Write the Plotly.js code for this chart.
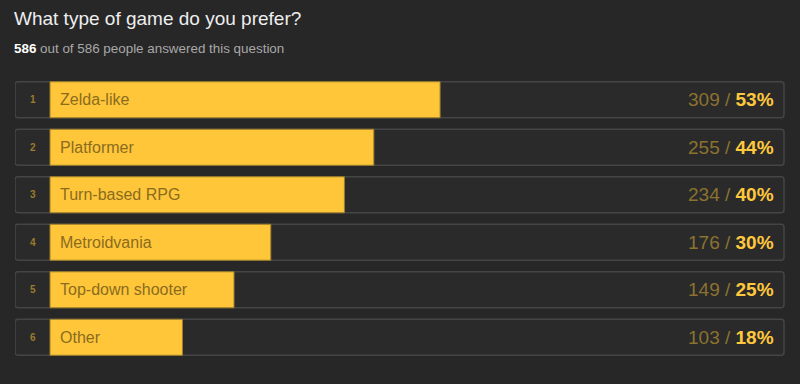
<!DOCTYPE html>
<html>
<head>
<meta charset="utf-8">
<script src="https://cdn.plot.ly/plotly-3.0.1.min.js"></script>
<style>
html,body{margin:0;padding:0;background:#272727;}
#chart{width:800px;height:384px;}
</style>
</head>
<body>
<div id="chart"></div>
<script>
const categories = ["Zelda-like", "Platformer", "Turn-based RPG", "Metroidvania", "Top-down shooter", "Other"];
const ranks = ["1", "2", "3", "4", "5", "6"];
const counts = [309, 255, 234, 176, 149, 103];
const percents = [53, 44, 40, 30, 25, 18];
const totalAnswered = 586;
const totalPeople = 586;

const XMIN = -4.755, XMAX = 100, BOXEND = 99.73;
const FONT = "Liberation Sans, Arial, sans-serif";

const bgTrace = {
  type: "bar", orientation: "h",
  y: categories,
  x: categories.map(() => BOXEND - XMIN),
  base: XMIN,
  marker: {color: "#2a2a2a", line: {color: "#454545", width: 1.5}, cornerradius: 3},
  hoverinfo: "skip", showlegend: false
};
const barTrace = {
  type: "bar", orientation: "h",
  y: categories,
  x: percents,
  base: 0,
  marker: {color: "#FFC63A", line: {color: "#9c7f2a", width: 1}},
  hoverinfo: "skip", showlegend: false
};

const annotations = [];
categories.forEach((c, i) => {
  annotations.push({xref: "x", yref: "y", x: (XMIN) / 2, y: c, text: "<b>" + ranks[i] + "</b>",
    showarrow: false, xanchor: "center", yanchor: "middle",
    font: {family: FONT, size: 10, color: "#9a7c2c"}});
  annotations.push({xref: "x", yref: "y", x: 0, y: c, xshift: 8, text: c,
    showarrow: false, xanchor: "left", yanchor: "middle",
    font: {family: FONT, size: 16, color: "#8a6c1e"}});
  annotations.push({xref: "x", yref: "y", x: BOXEND, y: c, xshift: -8,
    text: "<span style='color:#8c7230'>" + counts[i] + " / </span><b>" + percents[i] + "%</b>",
    showarrow: false, xanchor: "right", yanchor: "middle",
    font: {family: FONT, size: 19, color: "#FFC83D"}});
});
annotations.push({xref: "paper", yref: "paper", x: 0, y: 1, yshift: 58, xshift: -3,
  text: "What type of game do you prefer?", showarrow: false, xanchor: "left", yanchor: "middle",
  font: {family: FONT, size: 19, color: "#eeeeee"}});
annotations.push({xref: "paper", yref: "paper", x: 0, y: 1, yshift: 28, xshift: -3,
  text: "<b><span style='color:#ffffff'>" + totalAnswered + "</span></b> out of " + totalPeople + " people answered this question",
  showarrow: false, xanchor: "left", yanchor: "middle",
  font: {family: FONT, size: 13.4, color: "#a8a8a8"}});

const layout = {
  width: 800, height: 384,
  paper_bgcolor: "#272727", plot_bgcolor: "#272727",
  margin: {l: 15, r: 14, t: 76, b: 23},
  barmode: "overlay", bargap: 0.242,
  xaxis: {range: [XMIN, XMAX], visible: false, fixedrange: true},
  yaxis: {type: "category", autorange: "reversed", visible: false, fixedrange: true},
  annotations: annotations,
  showlegend: false
};

Plotly.newPlot("chart", [bgTrace, barTrace], layout, {displayModeBar: false, staticPlot: true});
</script>
</body>
</html>
